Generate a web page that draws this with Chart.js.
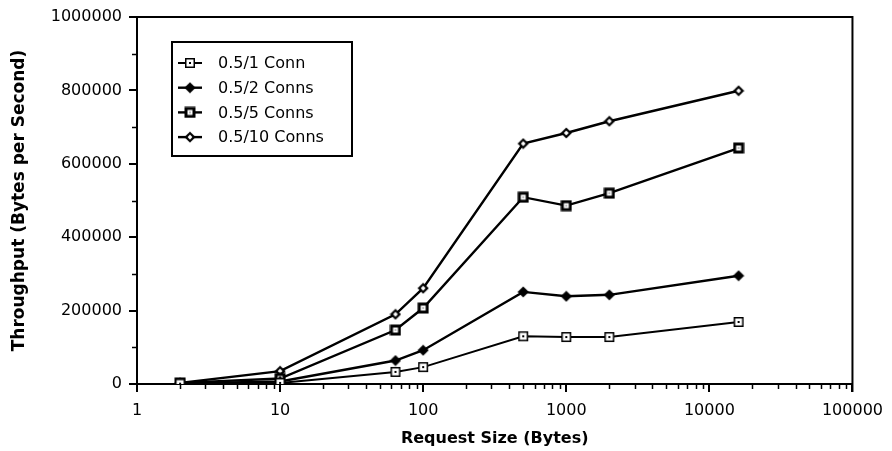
<!DOCTYPE html>
<html>
<head>
<meta charset="utf-8">
<script src="https://cdn.jsdelivr.net/npm/chart.js@4/dist/chart.umd.min.js"></script>
<style>
html,body{margin:0;padding:0;background:#fff;}
#wrap{width:892px;height:451px;position:relative;}
</style>
</head>
<body>
<div id="wrap"><canvas id="c" width="892" height="451"></canvas></div>
<script>
const requestSizes = [2, 10, 64, 100, 500, 1000, 2000, 16000];
const conn1  = [1000, 3000, 33000, 46000, 130000, 128000, 128000, 169000];
const conn2  = [1500, 7000, 64000, 92000, 251000, 239000, 243000, 295000];
const conn5  = [3000, 15000, 147000, 207000, 509000, 486000, 520000, 643000];
const conn10 = [3000, 35000, 190000, 261000, 655000, 684000, 716000, 799000];
const seriesLabels = ['0.5/1 Conn', '0.5/2 Conns', '0.5/5 Conns', '0.5/10 Conns'];
const xTickValues = [1, 10, 100, 1000, 10000, 100000];
const yTickValues = [0, 200000, 400000, 600000, 800000, 1000000];

function makeMarker(kind) {
  const c = document.createElement('canvas');
  const s = 12;
  c.width = s; c.height = s;
  const g = c.getContext('2d');
  g.fillStyle = '#000';
  const diamond = (r) => { g.beginPath(); g.moveTo(6, 6 - r); g.lineTo(6 + r, 6); g.lineTo(6, 6 + r); g.lineTo(6 - r, 6); g.closePath(); g.fill(); };
  if (kind === 'sqdot') {
    g.fillRect(1, 1, 10, 10);
    g.fillStyle = '#fff';
    g.fillRect(2.5, 2.5, 7, 7);
    g.fillStyle = '#000';
    g.fillRect(5, 5, 2, 2);
  } else if (kind === 'sqthick') {
    g.fillRect(0.5, 0.5, 11, 11);
    g.fillStyle = '#fff';
    g.fillRect(3.5, 3.5, 5, 5);
    g.fillStyle = '#000';
    g.fillRect(5.5, 5.5, 1, 1);
  } else if (kind === 'dfill') {
    diamond(5.6);
  } else {
    diamond(5.6);
    g.fillStyle = '#fff';
    diamond(2.4);
  }
  return c;
}
const markers = [makeMarker('sqdot'), makeMarker('dfill'), makeMarker('sqthick'), makeMarker('dhollow')];
const seriesValues = [conn1, conn2, conn5, conn10];
const lineWidths = [2, 2.4, 2.4, 2.4];

const datasets = seriesValues.map((vals, i) => ({
  label: seriesLabels[i],
  data: requestSizes.map((x, j) => ({x: x, y: vals[j]})),
  borderColor: '#000',
  backgroundColor: '#000',
  borderWidth: lineWidths[i],
  pointStyle: markers[i],
  pointRadius: 6,
  tension: 0
}));

const FONT = "'DejaVu Sans', sans-serif";

const decorPlugin = {
  id: 'decor',
  afterDraw(chart) {
    const ctx = chart.ctx;
    const a = chart.chartArea;
    const xs = chart.scales.x, ys = chart.scales.y;
    ctx.save();
    ctx.strokeStyle = '#000';
    ctx.lineWidth = 2;
    ctx.beginPath();
    ctx.moveTo(a.left, a.top); ctx.lineTo(a.right, a.top); ctx.lineTo(a.right, a.bottom + 8);
    ctx.stroke();
    ctx.lineWidth = 1.5;
    ctx.beginPath();
    for (let d = 1; d < 100000; d *= 10) {
      for (let k = 2; k <= 9; k++) {
        const px = Math.round(xs.getPixelForValue(d * k)) + 0.5;
        ctx.moveTo(px, a.bottom); ctx.lineTo(px, a.bottom + 5);
      }
    }
    for (let v = 100000; v < 1000000; v += 200000) {
      const py = Math.round(ys.getPixelForValue(v)) + 0.5;
      ctx.moveTo(a.left, py); ctx.lineTo(a.left - 5, py);
    }
    ctx.stroke();
    const bx = 172, by = 42, bw = 180, bh = 114;
    ctx.lineWidth = 2;
    ctx.fillStyle = '#fff';
    ctx.fillRect(bx, by, bw, bh);
    ctx.strokeRect(bx, by, bw, bh);
    ctx.font = '16px ' + FONT;
    ctx.textBaseline = 'middle';
    ctx.textAlign = 'left';
    ctx.fillStyle = '#000';
    chart.data.datasets.forEach((ds, i) => {
      const cy = by + 21 + i * 24.7;
      ctx.lineWidth = ds.borderWidth;
      ctx.beginPath(); ctx.moveTo(178, cy); ctx.lineTo(202, cy); ctx.stroke();
      const img = ds.pointStyle;
      ctx.drawImage(img, 190 - img.width / 2, cy - img.height / 2);
      ctx.fillText(ds.label, 218, cy + 1);
    });
    ctx.restore();
  }
};

new Chart(document.getElementById('c'), {
  type: 'line',
  data: { datasets: datasets },
  options: {
    responsive: false,
    animation: false,
    events: [],
    layout: { padding: { top: 17, right: 39, bottom: 0, left: 0 } },
    plugins: { legend: { display: false }, tooltip: { enabled: false } },
    scales: {
      x: {
        type: 'logarithmic',
        min: 1, max: 100000,
        afterBuildTicks: s => { s.ticks = xTickValues.map(v => ({value: v})); },
        afterFit: s => { s.height = 67; },
        ticks: {
          autoSkip: false, maxRotation: 0, padding: 9,
          color: '#000', font: { family: FONT, size: 16 },
          callback: v => String(v)
        },
        grid: { display: true, drawOnChartArea: false, drawTicks: true, tickLength: 8, color: '#000', lineWidth: 2 },
        border: { display: true, color: '#000', width: 2 },
        title: { display: true, text: 'Request Size (Bytes)', color: '#000', font: { family: FONT, size: 16, weight: 'bold' }, padding: { top: 0, bottom: 3 } }
      },
      y: {
        type: 'linear',
        min: 0, max: 1000000,
        afterBuildTicks: s => { s.ticks = yTickValues.map(v => ({value: v})); },
        afterFit: s => { s.width = 137; },
        ticks: {
          padding: 7, color: '#000', font: { family: FONT, size: 16 },
          callback: v => String(v)
        },
        grid: { display: true, drawOnChartArea: false, drawTicks: true, tickLength: 8, color: '#000', lineWidth: 2 },
        border: { display: true, color: '#000', width: 2 },
        title: { display: true, text: 'Throughput (Bytes per Second)', color: '#000', font: { family: FONT, size: 17, weight: 'bold' }, padding: { top: 9, bottom: 0 } }
      }
    }
  },
  plugins: [decorPlugin]
});
</script>
</body>
</html>
